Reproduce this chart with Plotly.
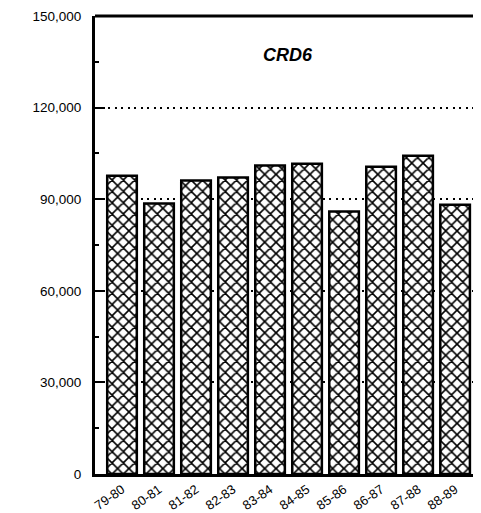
import plotly.graph_objects as go

categories = ["79-80", "80-81", "81-82", "82-83", "83-84", "84-85", "85-86", "86-87", "87-88", "88-89"]
values = [97700, 88600, 96100, 97100, 101000, 101600, 86000, 100600, 104200, 88200]
y_tickvals = [0, 30000, 60000, 90000, 120000, 150000]
y_ticktext = ["0", "30,000", "60,000", "90,000", "120,000", "150,000"]
title_text = "CRD6"

FONT = "Liberation Sans, Arial, sans-serif"

fig = go.Figure()
fig.add_trace(go.Bar(
    x=categories,
    y=values,
    width=0.8,
    marker=dict(
        color="white",
        line=dict(color="black", width=2.5),
        pattern=dict(shape="x", fgcolor="black", bgcolor="white", fgopacity=1,
                     size=8, solidity=0.36),
    ),
    showlegend=False,
))

fig.update_layout(
    width=473,
    height=505,
    margin=dict(l=87, r=0, t=8, b=30),
    paper_bgcolor="white",
    plot_bgcolor="white",
    font=dict(family=FONT, size=12, color="black"),
    bargap=0.2,
    annotations=[dict(
        text="<b><i>" + title_text + "</i></b>",
        xref="paper", yref="paper", x=0.5, y=0.941,
        showarrow=False, font=dict(family=FONT, size=18, color="black"),
    )],
)

fig.update_xaxes(
    type="category",
    range=[-0.73, 9.7],
    showline=True, linecolor="black", linewidth=3,
    mirror=False,
    ticks="",
    tickangle=-35,
    tickfont=dict(family=FONT, size=13, color="black"),
    showgrid=False,
    zeroline=False,
)

fig.update_yaxes(
    range=[0, 150000],
    tickvals=y_tickvals,
    ticktext=y_ticktext,
    showline=True, linecolor="black", linewidth=3,
    ticks="inside", ticklen=10, tickwidth=2, tickcolor="black",
    minor=dict(ticks="inside", ticklen=4, tickwidth=2, tickcolor="black", dtick=15000, tick0=0, showgrid=False),
    showgrid=True, gridcolor="black", gridwidth=2, griddash="2px,4.5px",
    zeroline=False,
    ticklabelstandoff=8,
    tickfont=dict(family=FONT, size=13.5, color="black"),
)

# top border
fig.add_shape(type="line", xref="paper", yref="paper", x0=0, x1=1, y0=1, y1=1,
              line=dict(color="black", width=3))

fig.write_html("out.html")
